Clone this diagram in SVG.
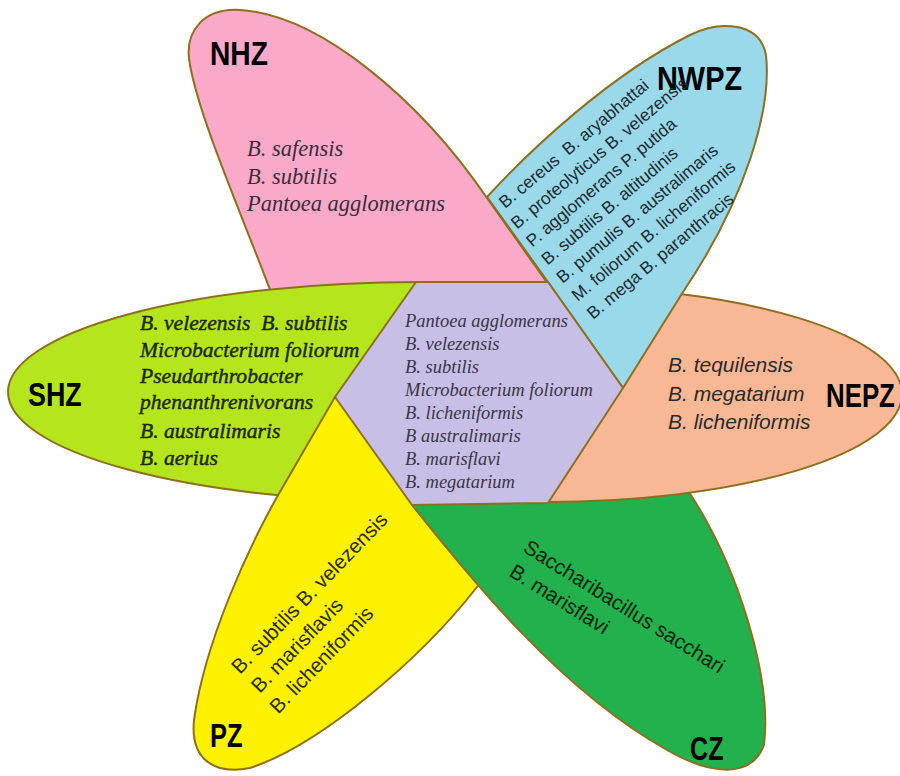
<svg xmlns="http://www.w3.org/2000/svg" width="900" height="776" viewBox="0 0 900 776">
<style>
.petal{stroke:#8e6f1e;stroke-width:2;stroke-linejoin:round}
.lbl{font-family:"Liberation Sans",Arial,sans-serif;font-weight:bold;font-size:34px;fill:#000}
.ser{font-family:"Liberation Serif","Times New Roman",serif;font-style:italic}
.san{font-family:"Liberation Sans",Arial,sans-serif}
</style>
<rect width="900" height="776" fill="#ffffff"/>
<g id="connectors"/>
<g id="node-NHZ">
<path class="petal" fill="#fba9c9" d="M274,300 C240,210 200,120 190,65 C183,30 205,8 240,10 C320,15 420,100 487,198 L548,284 L548,300 Z"/>
<text class="lbl" transform="translate(210,65) scale(0.83,1)">NHZ</text>
<g class="ser" font-size="22.5" fill="#3a2d3a">
<text x="247" y="156">B. safensis</text>
<text x="247" y="184">B. subtilis</text>
<text x="247" y="211">Pantoea agglomerans</text>
</g>
</g>
<g id="node-SHZ">
<path class="petal" fill="#b5e61d" d="M420,282 A412,110 0 0 0 420,502 L470,502 L470,282 Z"/>
<text class="lbl" transform="translate(28,406) scale(0.79,1)">SHZ</text>
<g class="ser" font-size="21.6" fill="#1d2600" stroke="#1d2600" stroke-width="0.45">
<text x="140" y="330" xml:space="preserve">B. velezensis  B. subtilis</text>
<text x="140" y="357">Microbacterium foliorum</text>
<text x="140" y="383">Pseudarthrobacter</text>
<text x="140" y="409">phenanthrenivorans</text>
<text x="140" y="438">B. australimaris</text>
<text x="140" y="465">B. aerius</text>
</g>
</g>
<g id="node-PZ">
<path class="petal" fill="#fff200" d="M335,397 L277,497 C250,545 205,640 194,720 C190,760 215,775 250,768 C320,745 420,660 477,587 L505,552 L440,480 Z"/>
<text class="lbl" transform="translate(210,747) scale(0.75,1)">PZ</text>
<g class="san" font-size="20.5" fill="#2b2b00" transform="translate(240,675) rotate(-46)">
<text x="0" y="0">B. subtilis B. velezensis</text>
<text x="0" y="27.5">B. marisflavis</text>
<text x="-2" y="55">B. licheniformis</text>
</g>
</g>
<g id="node-CZ">
<path class="petal" fill="#22b14c" d="M412,505 C470,578 560,690 667,750 C705,772 750,782 764,745 C772,680 740,570 689,492 L698,478 L548,494 L430,497 Z"/>
<text class="lbl" transform="translate(690,760) scale(0.74,1)">CZ</text>
<g class="san" font-size="20.7" fill="#0a2410" transform="translate(522,551) rotate(32)">
<text x="0" y="0">Saccharibacillus sacchari</text>
<text x="1" y="28">B. marisflavi</text>
</g>
</g>
<g id="node-NEPZ">
<path class="petal" fill="#f9b895" d="M545,286 A357,108 0 0 1 545,502 Z"/>
<text class="lbl" transform="translate(826,407) scale(0.76,1)">NEPZ</text>
<g class="san" font-size="21" font-style="italic" fill="#2a2a2a">
<text x="668" y="372">B. tequilensis</text>
<text x="668" y="401">B. megatarium</text>
<text x="668" y="429">B. licheniformis</text>
</g>
</g>
<g id="node-NWPZ">
<path class="petal" fill="#99d9ea" d="M548,282 L487,197 C530,150 610,75 690,35 C720,20 760,22 766,55 C772,110 745,200 683,292 L623,388 Z"/>
<text class="lbl" transform="translate(657,90) scale(0.85,1)">NWPZ</text>
<g class="san" font-size="17.3" fill="#1e2a30" transform="translate(505,209) rotate(-40)">
<text x="0" y="0" xml:space="preserve">B. cereus  B. aryabhattai</text>
<text x="-4" y="23.6">B. proteolyticus B. velezensis</text>
<text x="-4" y="47.2">P. agglomerans P. putida</text>
<text x="-4" y="70.8">B. subtilis B. altitudinis</text>
<text x="-4" y="94.4">B. pumulis B. australimaris</text>
<text x="-4" y="118">M. foliorum B. licheniformis</text>
<text x="-4" y="141.6">B. mega B. paranthracis</text>
</g>
</g>
<g id="node-center">
<polygon class="petal" fill="#c8bfe7" points="416,282 548,282 623,388 548,503 412,505 335,397"/>
<g class="ser" font-size="18.5" fill="#3a3644">
<text x="405" y="327">Pantoea agglomerans</text>
<text x="405" y="350">B. velezensis</text>
<text x="405" y="373">B. subtilis</text>
<text x="405" y="396">Microbacterium foliorum</text>
<text x="405" y="419">B. licheniformis</text>
<text x="405" y="442">B australimaris</text>
<text x="405" y="465">B. marisflavi</text>
<text x="405" y="488">B. megatarium</text>
</g>
</g>
</svg>
